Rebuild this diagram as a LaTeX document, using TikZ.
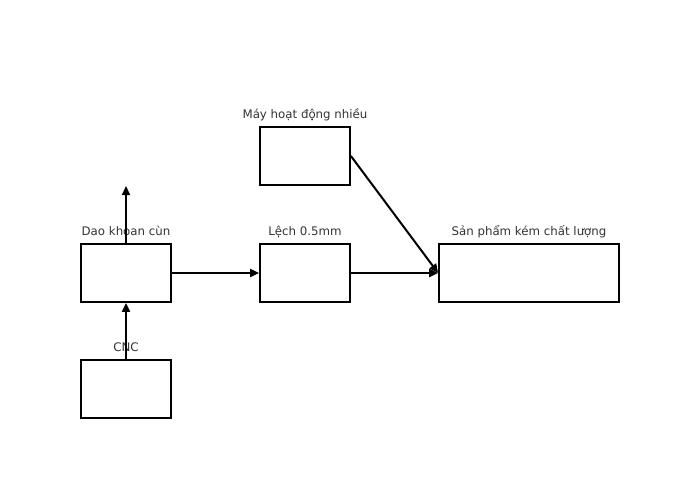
\documentclass[tikz,border=0pt]{standalone}
\usepackage{fontspec}
\setmainfont{DejaVu Sans}
\usetikzlibrary{arrows.meta}
\definecolor{labelgray}{HTML}{333333}
\begin{document}
\begin{tikzpicture}[x=1pt,y=-1pt,
  box/.style={draw=black,line width=1.8pt,fill=white,rectangle,inner sep=0pt},
  lbl/.style={text=labelgray,font=\fontsize{11.8}{13}\selectfont,anchor=base,inner sep=0pt},
  conn/.style={draw=black,line width=2pt,-{Triangle[length=9pt,width=8pt]}}]
\useasboundingbox (0,0) rectangle (700,500);
\node[box,minimum width=90pt,minimum height=58pt] (dao) at (126,273) {};
\node[box,minimum width=90pt,minimum height=58pt] (lech) at (305,273) {};
\node[box,minimum width=90pt,minimum height=58pt] (may) at (305,156) {};
\node[box,minimum width=180pt,minimum height=58pt] (san) at (529,273) {};
\node[box,minimum width=90pt,minimum height=58pt] (cnc) at (126,389) {};
\node[lbl] (ldao) at ([yshift=7.5pt]dao.north) {Dao khoan cùn};
\node[lbl] (llech) at ([yshift=7.5pt]lech.north) {Lệch 0.5mm};
\node[lbl] (lmay) at ([yshift=7.5pt]may.north) {Máy hoạt động nhiều};
\node[lbl] (lsan) at ([yshift=7.5pt]san.north) {Sản phẩm kém chất lượng};
\node[lbl] (lcnc) at ([yshift=7.5pt]cnc.north) {CNC};
\coordinate (up) at (126,186);
\draw[conn] (dao.north) -- (up);
\draw[conn] (cnc.north) -- (dao.south);
\draw[conn] (dao.east) -- (lech.west);
\draw[conn] (lech.east) -- (san.west);
\draw[conn] (may.east) -- (san.west);
\end{tikzpicture}
\end{document}
